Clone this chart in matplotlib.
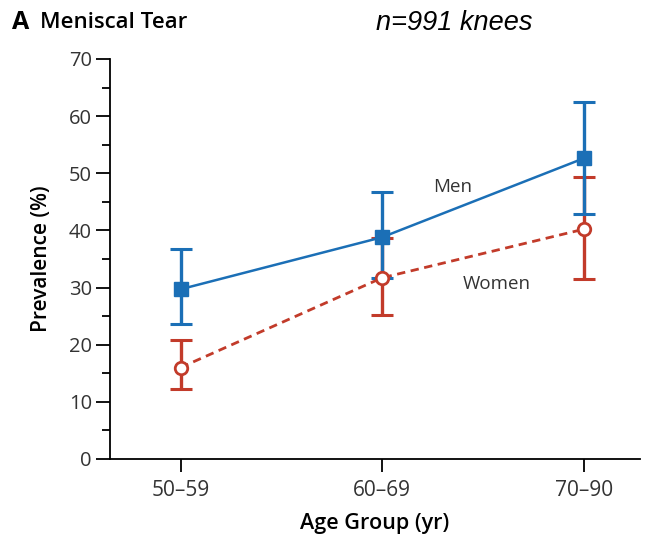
import numpy as np
import matplotlib.pyplot as plt
from matplotlib.ticker import MultipleLocator

plt.rcParams['font.family'] = ['Open Sans', 'DejaVu Sans']

age_groups = ['50\u201359', '60\u201369', '70\u201390']

men_prev = [29.7, 38.8, 52.6]
men_low = [23.6, 31.7, 42.8]
men_high = [36.7, 46.8, 62.5]

women_prev = [16.0, 31.7, 40.2]
women_low = [12.2, 25.2, 31.5]
women_high = [20.8, 38.7, 49.3]

BLUE = '#1b6fb6'
RED = '#c23b2a'

x = np.arange(len(age_groups))
men_err = [np.subtract(men_prev, men_low), np.subtract(men_high, men_prev)]
women_err = [np.subtract(women_prev, women_low), np.subtract(women_high, women_prev)]

fig = plt.figure(figsize=(6.52, 5.37), dpi=100)
ax = fig.add_axes([0.1687, 0.1453, 0.8129, 0.7449])

# women: dashed line + error bars, markers drawn last
ax.errorbar(x, women_prev, yerr=women_err, color=RED, fmt='none',
            capsize=8, capthick=2.2, elinewidth=2.4, zorder=2)
ax.plot(x, women_prev, color=RED, lw=2.0, ls=(0, (3, 2)), zorder=2)

ax.errorbar(x, men_prev, yerr=men_err, color=BLUE, lw=1.8, fmt='-s',
            markersize=10, capsize=8, capthick=2.2, elinewidth=2.4, zorder=3)

ax.plot(x, women_prev, ls='none', marker='o', markersize=9,
        markerfacecolor='white', markeredgecolor=RED, markeredgewidth=2, zorder=4)

ax.text(1.35, 47.6, 'Men', fontsize=13.5, color='#333333', ha='center', va='center')
ax.text(1.57, 30.6, 'Women', fontsize=13.5, color='#333333', ha='center', va='center')

ax.set_xlim(-0.35, 2.28)
ax.set_ylim(0, 70)
ax.set_xticks(x)
ax.set_xticklabels(age_groups, fontsize=15, color='#333333')
ax.yaxis.set_major_locator(MultipleLocator(10))
ax.yaxis.set_minor_locator(MultipleLocator(5))
ax.tick_params(axis='y', which='major', length=10, width=1.3, labelsize=14.5,
               labelcolor='#333333', pad=3)
ax.tick_params(axis='y', which='minor', length=6, width=1.3)
ax.tick_params(axis='x', length=9, width=1.3, pad=6)
for s in ['top', 'right']:
    ax.spines[s].set_visible(False)
for s in ['left', 'bottom']:
    ax.spines[s].set_linewidth(1.3)

ax.set_ylabel('Prevalence (%)', fontsize=15, fontweight='semibold', labelpad=12)
ax.set_xlabel('Age Group (yr)', fontsize=15.5, fontweight='semibold', labelpad=9)

fig.text(0.018, 0.958, 'A', fontsize=18, fontweight='bold', va='center')
fig.text(0.062, 0.958, 'Meniscal Tear', fontsize=16, fontweight='semibold', va='center')
fig.text(0.696, 0.958, 'n=991 knees', fontsize=19.5, style='italic',
         family='Liberation Sans', ha='center', va='center')

fig.savefig('out.png', dpi=100)
